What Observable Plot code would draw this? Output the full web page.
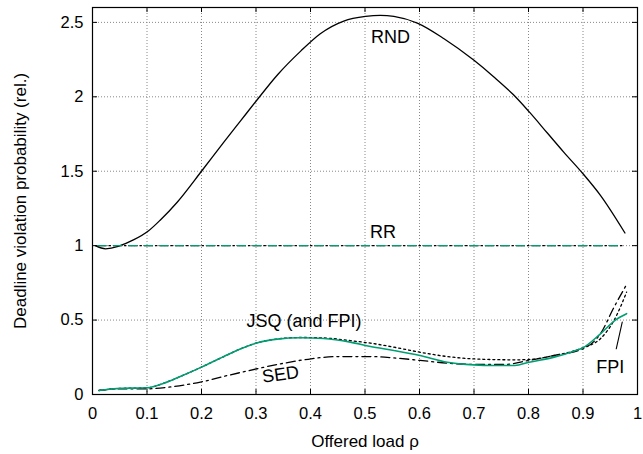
<!DOCTYPE html>
<html>
<head>
<meta charset="utf-8">
<script src="https://cdn.jsdelivr.net/npm/d3@7"></script>
<script src="https://cdn.jsdelivr.net/npm/@observablehq/plot@0.6"></script>
<style>
  html, body { margin: 0; padding: 0; background: #fff; }
  #chart svg { display: block; }
</style>
</head>
<body>
<div id="chart"></div>
<script>
// ---- data ----
const xTicks = [0, 0.1, 0.2, 0.3, 0.4, 0.5, 0.6, 0.7, 0.8, 0.9, 1];
const xTickLabels = ["0", "0.1", "0.2", "0.3", "0.4", "0.5", "0.6", "0.7", "0.8", "0.9", "1"];
const yTicks = [0, 0.5, 1, 1.5, 2, 2.5];
const yTickLabels = ["0", "0.5", "1", "1.5", "2", "2.5"];

const rndX = [0.005, 0.024, 0.076, 0.103, 0.125, 0.155, 0.201, 0.241, 0.272, 0.3, 0.34, 0.382, 0.418, 0.461, 0.501, 0.528, 0.553, 0.596, 0.645, 0.700, 0.736, 0.772, 0.801, 0.835, 0.865, 0.900, 0.932, 0.977];
const rndY = [1.0, 0.979, 1.04, 1.10, 1.174, 1.29, 1.505, 1.696, 1.84, 1.97, 2.15, 2.307, 2.424, 2.509, 2.540, 2.547, 2.540, 2.495, 2.39, 2.245, 2.135, 2.015, 1.9, 1.755, 1.627, 1.483, 1.338, 1.085];

const rrX = [0.01, 0.975];
const rrY = [1, 1];

const jsqX = [0.012, 0.045, 0.1, 0.131, 0.161, 0.2, 0.241, 0.272, 0.3, 0.339, 0.382, 0.424, 0.473, 0.51, 0.553, 0.601, 0.651, 0.7, 0.736, 0.775, 0.801, 0.847, 0.883, 0.9, 0.932, 0.96, 0.98];
const jsqY = [0.027, 0.04, 0.045, 0.076, 0.121, 0.184, 0.255, 0.307, 0.345, 0.372, 0.381, 0.376, 0.352, 0.323, 0.296, 0.262, 0.217, 0.199, 0.195, 0.195, 0.217, 0.251, 0.291, 0.314, 0.408, 0.502, 0.543];

const fpiX = [0.012, 0.045, 0.1, 0.131, 0.161, 0.2, 0.241, 0.272, 0.3, 0.339, 0.382, 0.424, 0.473, 0.51, 0.553, 0.601, 0.651, 0.7, 0.775, 0.801, 0.847, 0.9, 0.932, 0.957, 0.98];
const fpiY = [0.027, 0.04, 0.045, 0.076, 0.121, 0.184, 0.255, 0.307, 0.345, 0.373, 0.383, 0.38, 0.362, 0.345, 0.318, 0.284, 0.255, 0.239, 0.233, 0.235, 0.262, 0.314, 0.375, 0.498, 0.688];

const sedX = [0.012, 0.045, 0.1, 0.149, 0.198, 0.253, 0.302, 0.351, 0.401, 0.449, 0.51, 0.553, 0.601, 0.651, 0.7, 0.755, 0.801, 0.847, 0.9, 0.932, 0.957, 0.98];
const sedY = [0.027, 0.038, 0.038, 0.054, 0.083, 0.132, 0.173, 0.210, 0.240, 0.255, 0.255, 0.246, 0.229, 0.211, 0.202, 0.202, 0.229, 0.262, 0.307, 0.408, 0.587, 0.739];

const labelText = ["RND", "RR", "JSQ (and FPI)", "FPI"];
const labelX = [0.547, 0.533, 0.388, 0.950];
const labelY = [2.40, 1.09, 0.493, 0.183];

const sedLabel = ["SED"];
const sedLabelX = [0.345];
const sedLabelY = [0.134];

const fpiPointerX = [0.961, 0.972];
const fpiPointerY = [0.307, 0.486];

// ---- build tables ----
const pts = (xs, ys) => xs.map((x, i) => ({x, y: ys[i]}));
const rnd = pts(rndX, rndY);
const rr = pts(rrX, rrY);
const jsq = pts(jsqX, jsqY);
const fpi = pts(fpiX, fpiY);
const sed = pts(sedX, sedY);
const labels = labelText.map((t, i) => ({t, x: labelX[i], y: labelY[i]}));
const sedLab = sedLabel.map((t, i) => ({t, x: sedLabelX[i], y: sedLabelY[i]}));
const pointer = pts(fpiPointerX, fpiPointerY);

const GREEN = "#009e73";
const FONT = "'Liberation Sans', Arial, Helvetica, sans-serif";

const W = 643, H = 454;
const mL = 92, mR = 6, mT = 7, mB = 60;
const innerW = W - mL - mR, innerH = H - mT - mB;
const T = 5; // tick length

const chart = Plot.plot({
  width: W,
  height: H,
  marginLeft: mL,
  marginRight: mR,
  marginTop: mT,
  marginBottom: mB,
  style: {fontFamily: FONT, fontSize: "16.5px", color: "#000", background: "#fff"},
  x: {domain: [0, 1]},
  y: {domain: [0, 2.6]},
  marks: [
    Plot.gridX(xTicks, {stroke: "#888", strokeOpacity: 1, strokeDasharray: "1,2", strokeWidth: 1}),
    Plot.gridY(yTicks, {stroke: "#888", strokeOpacity: 1, strokeDasharray: "1,2", strokeWidth: 1}),
    // inward ticks
    Plot.tickY(yTicks, {y: d => d, insetRight: innerW - T, stroke: "#000"}),
    Plot.tickY(yTicks, {y: d => d, insetLeft: innerW - T, stroke: "#000"}),
    Plot.tickX(xTicks, {x: d => d, insetTop: innerH - T, stroke: "#000"}),
    Plot.tickX(xTicks, {x: d => d, insetBottom: innerH - T, stroke: "#000"}),
    Plot.axisX({
      ticks: xTicks, tickSize: 0, tickPadding: 13, fontSize: 16.5, label: null,
      tickFormat: (d, i) => xTickLabels[xTicks.indexOf(d)]
    }),
    Plot.axisX({
      ticks: [], tickSize: 0, fontSize: 17,
      label: "Offered load ρ", labelAnchor: "center", labelArrow: "none", labelOffset: 52
    }),
    Plot.axisY({
      ticks: yTicks, tickSize: 0, tickPadding: 9, fontSize: 16.5, label: null,
      tickFormat: d => yTickLabels[yTicks.indexOf(d)]
    }),
    Plot.axisY({
      ticks: [], tickSize: 0, fontSize: 17,
      label: "Deadline violation probability (rel.)", labelAnchor: "center", labelArrow: "none", labelOffset: 79
    }),
    // curves
    Plot.line(rnd, {x: "x", y: "y", stroke: "#000", strokeWidth: 1.3, curve: "monotone-x"}),
    Plot.line(rr, {x: "x", y: "y", stroke: "#000", strokeWidth: 1.2, strokeDasharray: "8,3,1.5,3"}),
    Plot.line(rr, {x: "x", y: "y", stroke: GREEN, strokeWidth: 1.4, strokeDasharray: "8,7.5"}),
    Plot.line(sed, {x: "x", y: "y", stroke: "#000", strokeWidth: 1.3, strokeDasharray: "9,4,2,4", curve: "monotone-x"}),
    Plot.line(fpi, {x: "x", y: "y", stroke: "#000", strokeWidth: 1.3, strokeDasharray: "2,3", curve: "monotone-x"}),
    Plot.line(jsq, {x: "x", y: "y", stroke: GREEN, strokeWidth: 1.6, curve: "monotone-x"}),
    Plot.line(pointer, {x: "x", y: "y", stroke: "#000", strokeWidth: 1.1}),
    // labels
    Plot.text(labels, {x: "x", y: "y", text: "t", fontSize: 18, fill: "#000"}),
    Plot.text(sedLab, {x: "x", y: "y", text: "t", fontSize: 18, fill: "#000", rotate: -8}),
    Plot.frame({stroke: "#000", strokeWidth: 1.2})
  ]
});
document.getElementById("chart").appendChild(chart);
</script>
</body>
</html>
